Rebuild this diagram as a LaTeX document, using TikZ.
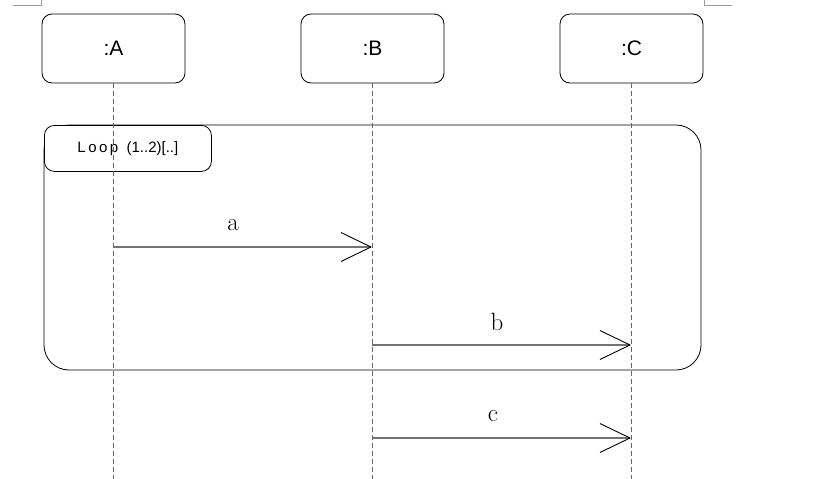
\documentclass[tikz,border=0pt]{standalone}
\usepackage{fontspec}
\newfontfamily\labfont{Liberation Sans}
\usetikzlibrary{arrows.meta}
\tikzset{
  obj/.style={draw=black, line width=0.8pt, rounded corners=10pt, minimum width=143pt, minimum height=69pt, inner sep=0pt, font=\labfont\fontsize{21}{24}\selectfont},
  life/.style={draw=black!60, line width=0.7pt, dash pattern=on 5pt off 3pt},
  msg/.style={draw=black!55, line width=1.6pt, -{Straight Barb[length=30pt,width=29pt,line width=0.9pt,color=black]}},
  msglab/.style={font=\fontsize{25}{29}\selectfont, inner sep=0pt},
  frame/.style={draw=black, line width=0.8pt, rounded corners=25pt},
  cornermark/.style={draw=black!40, line width=0.6pt}
}
\begin{document}
\begin{tikzpicture}[x=1pt,y=-1pt]
\useasboundingbox (0,0) rectangle (839,479);
% corner marks
\draw[cornermark] (13,5) -- (41,5) -- (41,0);
\draw[cornermark] (704,0) -- (704,5) -- (732,5);
% objects
\node[obj] (A) at (113.5,48.5) {:A};
\node[obj] (B) at (372.5,48.5) {:B};
\node[obj] (C) at (631.5,48.5) {:C};
% loop frame
\draw[frame] (44,125) rectangle (701,370);
\node[draw=black, fill=white, line width=0.8pt, rounded corners=10pt, minimum width=167pt, minimum height=46pt, inner sep=0pt, anchor=north west, font=\labfont\fontsize{15}{18}\selectfont] (L) at (44,125) {L\,o\,o\,p\ \ (1..2)[..]};
% lifeline ends
\coordinate (Aend) at (113,479);
\coordinate (Bend) at (372,479);
\coordinate (Cend) at (631,479);
\draw[life] (A.south -| Aend) -- (Aend);
\draw[life] (B.south -| Bend) -- (Bend);
\draw[life] (C.south -| Cend) -- (Cend);
% messages
\coordinate (a1) at (113,247); \coordinate (a2) at (372,247);
\coordinate (b1) at (372,345); \coordinate (b2) at (631,345);
\coordinate (c1) at (372,438); \coordinate (c2) at (631,438);
\draw[msg] (a1) -- (a2);
\draw[msg] (b1) -- (b2);
\draw[msg] (c1) -- (c2);
\node[msglab] (la) at (233,225) {a};
\node[msglab] (lb) at (497,322) {b};
\node[msglab] (lc) at (493,416) {c};
\end{tikzpicture}
\end{document}
